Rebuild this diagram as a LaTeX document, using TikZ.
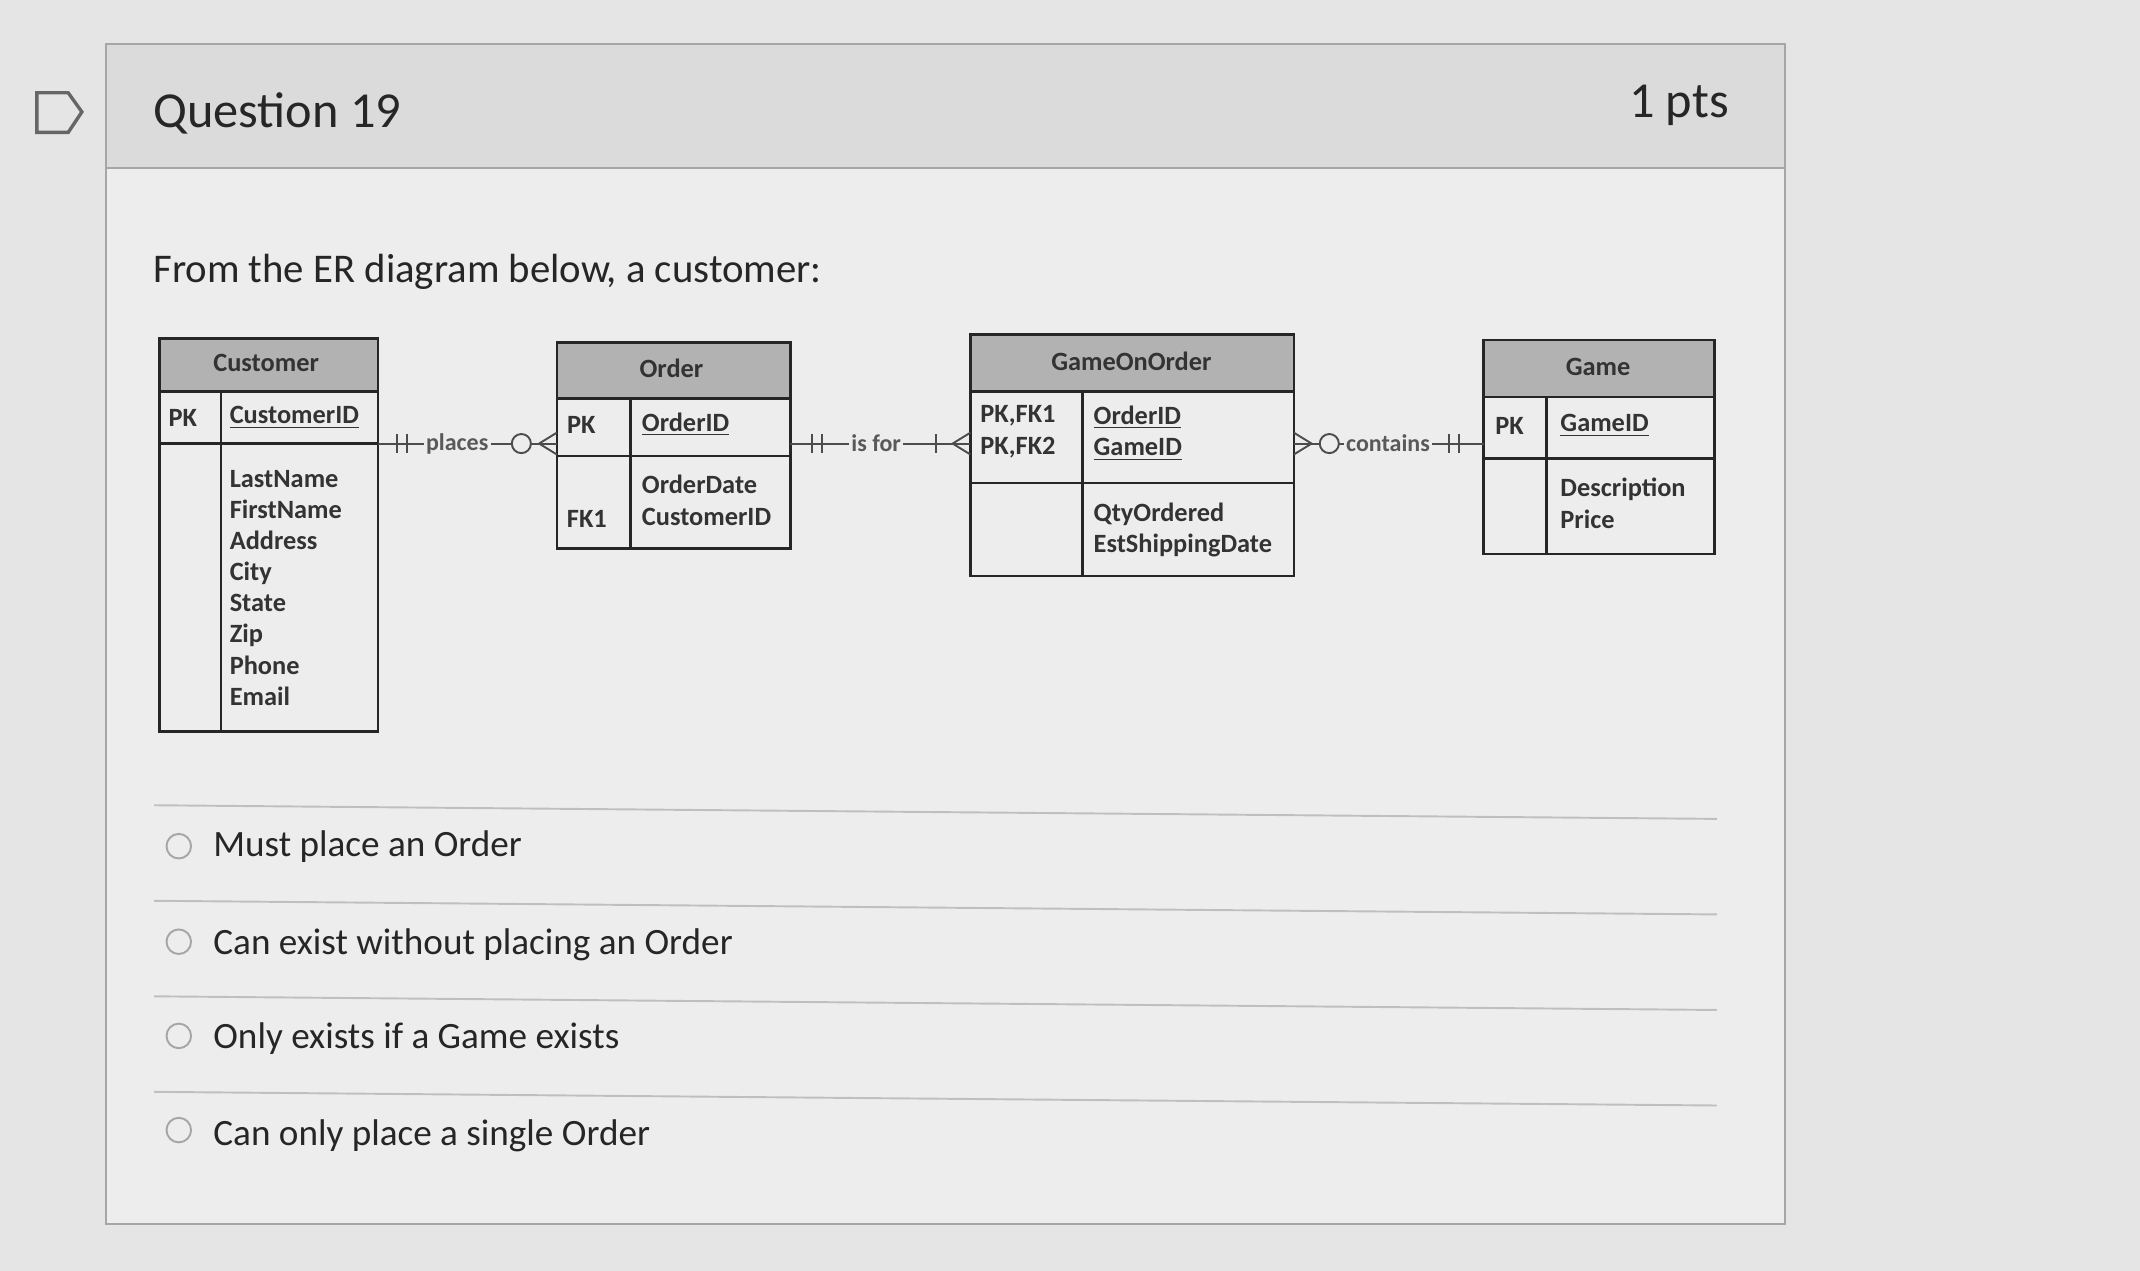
\documentclass[tikz,border=0pt]{standalone}
\usepackage{fontspec}
\setmainfont{Carlito}
\begin{document}
\begin{tikzpicture}[x=0.02cm,y=-0.02cm,
  tb/.style={draw=black!85,line width=1.1pt},
  hd/.style={draw=black!85,line width=1.1pt,fill=black!30},
  tt/.style={font=\fontsize{11}{13}\selectfont\bfseries,text=black!80,inner sep=0pt},
  ml/.style={tt,anchor=north west,align=left,font=\fontsize{11}{13.2}\selectfont\bfseries},
  rel/.style={draw=black!70,line width=0.8pt},
  lbl/.style={font=\fontsize{10}{12}\selectfont\bfseries,text=black!65,fill=black!7,inner sep=1pt},
  opt/.style={font=\fontsize{15.5}{18}\selectfont,text=black!85,anchor=west,inner sep=0pt},
  radio/.style={circle,draw=black!35,line width=0.8pt,minimum size=0.36cm,inner sep=0pt}]
\useasboundingbox (0,0) rectangle (1568,931);
\fill[black!10] (0,0) rectangle (1568,931);
% card
\fill[black!7] (78,32) rectangle (1308,897);
\fill[black!14] (78,32) rectangle (1308,123);
\draw[black!35,line width=0.8pt] (78,32) rectangle (1308,897);
\draw[black!35,line width=0.8pt] (78,123) -- (1308,123);
\draw[black!60,line width=1.4pt] (27,68) -- (50,68) -- (60,82) -- (50,97) -- (27,97) -- cycle;
\node[anchor=west,font=\fontsize{21}{24}\selectfont,text=black!85,inner sep=0pt] (q) at (112,83) {Question 19};
\node[anchor=east,font=\fontsize{21}{24}\selectfont,text=black!85,inner sep=0pt] (p) at (1267,77) {1 pts};
\node[anchor=west,font=\fontsize{17}{20}\selectfont,text=black!85,inner sep=0pt] (f) at (112,199) {From the ER diagram below, a customer:};
% Customer
\draw[hd] (117,248) rectangle (277,287);
\draw[tb] (117,287) rectangle (277,536);
\draw[tb] (117,325) -- (277,325);
\draw[tb] (162,287) -- (162,536);
\node[tt] (c0) at (195,266) {Customer};
\node[tt] (c1) at (134,306) {PK};
\node[tt,anchor=west] (c2) at (168,306) {\underline{CustomerID}};
\node[ml,font=\fontsize{11}{13}\selectfont\bfseries] (c3) at (168,344) {LastName\\FirstName\\Address\\City\\State\\Zip\\Phone\\Email};
% Order
\draw[hd] (408,251) rectangle (579,292);
\draw[tb] (408,292) rectangle (579,402);
\draw[tb] (408,334) -- (579,334);
\draw[tb] (462,292) -- (462,402);
\node[tt] (o0) at (492,270) {Order};
\node[tt] (o1) at (426,311) {PK};
\node[tt,anchor=west] (o2) at (470,311) {\underline{OrderID}};
\node[tt] (o3) at (430,380) {FK1};
\node[ml] (o4) at (470,348) {OrderDate\\CustomerID};
% GameOnOrder
\draw[hd] (711,245) rectangle (948,287);
\draw[tb] (711,287) rectangle (948,422);
\draw[tb] (711,354) -- (948,354);
\draw[tb] (793,287) -- (793,422);
\node[tt] (g0) at (829,265) {GameOnOrder};
\node[ml] (g1) at (718,297) {PK,FK1\\PK,FK2};
\node[ml] (g2) at (801,297) {\underline{OrderID}\\\underline{GameID}};
\node[ml] (g3) at (801,368) {QtyOrdered\\EstShippingDate};
% Game
\draw[hd] (1087,249) rectangle (1256,291);
\draw[tb] (1087,291) rectangle (1256,406);
\draw[tb] (1087,336) -- (1256,336);
\draw[tb] (1133,291) -- (1133,406);
\node[tt] (m0) at (1171,269) {Game};
\node[tt] (m1) at (1106,312) {PK};
\node[tt,anchor=west] (m2) at (1143,312) {\underline{GameID}};
\node[ml] (m3) at (1143,350) {Description\\Price};
% relationships
\coordinate (a1) at (277,325); \coordinate (a2) at (408,325);
\draw[rel] (a1) -- (a2);
\draw[rel] (291,318) -- (291,332) (298,318) -- (298,332);
\node[lbl] (l1) at (335,325) {places};
\draw[rel,fill=black!7] (382,325) circle (7);
\draw[rel] (395,325) -- (408,317) (395,325) -- (408,333);
\coordinate (b1) at (579,325); \coordinate (b2) at (711,325);
\draw[rel] (b1) -- (b2);
\draw[rel] (595,318) -- (595,332) (602,318) -- (602,332);
\node[lbl] (l2) at (642,325) {is for};
\draw[rel] (686,318) -- (686,332);
\draw[rel] (698,325) -- (711,317) (698,325) -- (711,333);
\coordinate (d1) at (948,325); \coordinate (d2) at (1087,325);
\draw[rel] (d1) -- (d2);
\draw[rel] (948,317) -- (961,325) -- (948,333);
\draw[rel,fill=black!7] (974,325) circle (7);
\node[lbl] (l3) at (1017,325) {contains};
\draw[rel] (1062,318) -- (1062,332) (1069,318) -- (1069,332);
% options
\foreach \y in {590,660,730,800} \draw[black!25,line width=0.8pt] (113,\y) -- (1258,\y+10);
\node[radio] (r1) at (131,620) {}; \node[opt] (t1) at (156,620) {Must place an Order};
\node[radio] (r2) at (131,690) {}; \node[opt] (t2) at (156,692) {Can exist without placing an Order};
\node[radio] (r3) at (131,759) {}; \node[opt] (t3) at (156,761) {Only exists if a Game exists};
\node[radio] (r4) at (131,828) {}; \node[opt] (t4) at (156,832) {Can only place a single Order};
\end{tikzpicture}
\end{document}
